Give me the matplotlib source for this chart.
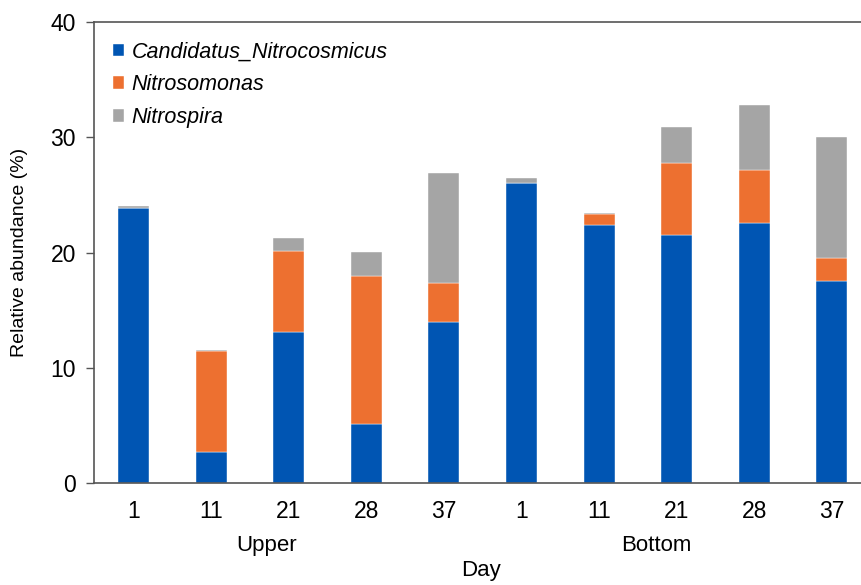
import matplotlib
matplotlib.use("Agg")
import matplotlib.pyplot as plt
import numpy as np

plt.rcParams['font.family'] = ['Liberation Sans', 'DejaVu Sans']

days = ['1', '11', '21', '28', '37', '1', '11', '21', '28', '37']
groups = ['Upper', 'Bottom']
series_names = ['Candidatus_Nitrocosmicus', 'Nitrosomonas', 'Nitrospira']
nitrocosmicus = [23.9, 2.7, 13.1, 5.1, 13.95, 26.0, 22.4, 21.5, 22.6, 17.5]
nitrosomonas = [0.0, 8.75, 7.0, 12.9, 3.4, 0.05, 0.9, 6.25, 4.6, 2.0]
nitrospira = [0.1, 0.05, 1.2, 2.0, 9.55, 0.4, 0.15, 3.15, 5.6, 10.5]
colors = ['#0055B3', '#ED7030', '#A5A5A5']

fig = plt.figure(figsize=(8.62, 5.85), dpi=100)
ax = fig.add_axes([94/862, 1 - 483/585, 1 - 94/862, (483 - 22)/585])

x = np.arange(len(days))
bottom = np.zeros(len(days))
for vals, name, c in zip([nitrocosmicus, nitrosomonas, nitrospira], series_names, colors):
    ax.bar(x, vals, width=0.40, bottom=bottom, color=c, label=name,
           edgecolor='white', linewidth=0.3)
    bottom += np.array(vals)

ax.set_ylim(0, 40)
ax.set_xlim(-0.51, 9.39)
ax.set_yticks([0, 10, 20, 30, 40])
ax.set_xticks(x)
ax.set_xticklabels(days)
ax.tick_params(axis='y', labelsize=16.5, length=6, width=1, color='#555555', direction='out', pad=7)
ax.tick_params(axis='x', labelsize=16.5, length=0, pad=12)

for s in ['left', 'top', 'bottom']:
    ax.spines[s].set_color('#555555')
    ax.spines[s].set_linewidth(1.2)
ax.spines['right'].set_visible(False)

ax.set_ylabel('Relative abundance (%)', fontsize=14, labelpad=16)

ax.text(1.71, -5.4, groups[0], fontsize=16, ha='center', va='center')
ax.text(6.74, -5.4, groups[1], fontsize=16, ha='center', va='center')
ax.text(4.48, -7.6, 'Day', fontsize=16, ha='center', va='center')

leg = ax.legend(loc='upper left', bbox_to_anchor=(0.0, 1.0), frameon=False,
                prop={'size': 15.5, 'style': 'italic'}, handlelength=0.5, handleheight=0.5,
                handletextpad=0.35, labelspacing=0.55, borderaxespad=0.5)

fig.savefig('out.png', dpi=100)
